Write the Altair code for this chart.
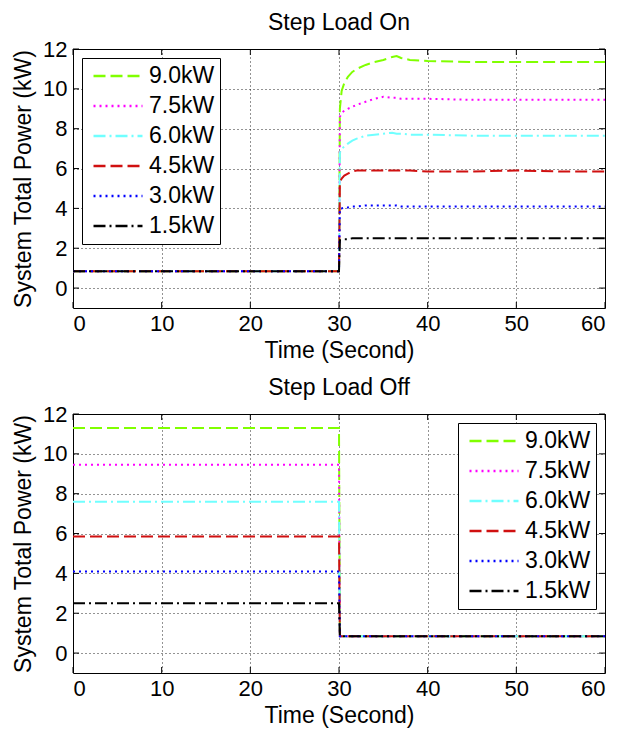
import altair as alt
import pandas as pd

FONT = "Liberation Sans"

series = ["9.0kW", "7.5kW", "6.0kW", "4.5kW", "3.0kW", "1.5kW"]
colors = ["#80FF00", "#FF00FF", "#70FFFF", "#D01010", "#0000FF", "#000000"]
dashes = [[12, 5], [2, 4], [12, 4, 2, 4], [12, 5], [2, 4], [12, 4, 2, 4]]

# Step Load On (time in seconds, power in kW)
t_on = [0, 5, 10, 15, 20, 25, 29.9, 30.0, 30.1, 30.3, 30.6, 31, 31.5, 32, 33, 34,
        35, 36, 36.5, 37, 38, 40, 45, 50, 55, 60]
on_90 = [0.85, 0.85, 0.85, 0.85, 0.85, 0.85, 0.85, 0.85, 9.0, 9.9, 10.3, 10.6, 10.85,
         11.0, 11.2, 11.35, 11.45, 11.6, 11.65, 11.55, 11.45, 11.4, 11.35, 11.35, 11.35, 11.35]
on_75 = [0.85, 0.85, 0.85, 0.85, 0.85, 0.85, 0.85, 0.85, 8.6, 8.8, 8.9, 9.0, 9.1,
         9.2, 9.35, 9.5, 9.6, 9.55, 9.55, 9.5, 9.5, 9.5, 9.45, 9.45, 9.45, 9.45]
on_60 = [0.85, 0.85, 0.85, 0.85, 0.85, 0.85, 0.85, 0.85, 6.8, 7.0, 7.1, 7.25, 7.4,
         7.5, 7.65, 7.7, 7.75, 7.8, 7.75, 7.75, 7.7, 7.7, 7.65, 7.65, 7.65, 7.65]
on_45 = [0.85, 0.85, 0.85, 0.85, 0.85, 0.85, 0.85, 0.85, 5.3, 5.5, 5.65, 5.75, 5.85,
         5.9, 5.9, 5.9, 5.9, 5.9, 5.9, 5.9, 5.9, 5.85, 5.85, 5.9, 5.85, 5.85]
on_30 = [0.85, 0.85, 0.85, 0.85, 0.85, 0.85, 0.85, 0.85, 4.0, 4.0, 4.05, 4.05, 4.1,
         4.1, 4.15, 4.15, 4.15, 4.15, 4.15, 4.1, 4.1, 4.1, 4.1, 4.1, 4.1, 4.1]
on_15 = [0.85, 0.85, 0.85, 0.85, 0.85, 0.85, 0.85, 0.85, 2.4, 2.4, 2.45, 2.45, 2.5,
         2.5, 2.5, 2.5, 2.5, 2.5, 2.5, 2.5, 2.5, 2.5, 2.5, 2.5, 2.5, 2.5]

# Step Load Off
t_off = [0, 10, 20, 29.95, 30.0, 30.1, 40, 50, 60]
off_90 = [11.3, 11.3, 11.3, 11.3, 11.3, 0.85, 0.85, 0.85, 0.85]
off_75 = [9.45, 9.45, 9.45, 9.45, 9.45, 0.85, 0.85, 0.85, 0.85]
off_60 = [7.6, 7.6, 7.6, 7.6, 7.6, 0.85, 0.85, 0.85, 0.85]
off_45 = [5.85, 5.85, 5.85, 5.85, 5.85, 0.85, 0.85, 0.85, 0.85]
off_30 = [4.1, 4.1, 4.1, 4.1, 4.1, 0.85, 0.85, 0.85, 0.85]
off_15 = [2.5, 2.5, 2.5, 2.5, 2.5, 0.85, 0.85, 0.85, 0.85]

x_ticks = [0, 10, 20, 30, 40, 50, 60]
y_ticks = [0, 2, 4, 6, 8, 10, 12]

W, H = 532, 259


def long_df(t, cols):
    rows = []
    for name, vals in zip(series, cols):
        for i, (tt, v) in enumerate(zip(t, vals)):
            rows.append({"t": tt, "p": v, "s": name, "i": i})
    return pd.DataFrame(rows)


def panel(df, title, orient):
    leg = alt.Legend(orient=orient, title=None, offset=9, symbolType="stroke",
                     symbolSize=2400, symbolStrokeWidth=2.5, symbolOffset=5,
                     clipHeight=26, rowPadding=4, labelOffset=5, padding=5,
                     strokeColor="black", fillColor="white",
                     labelFont=FONT, labelFontSize=23, labelColor="black")
    xs = alt.Scale(domain=[0, 60], nice=False)
    ys = alt.Scale(domain=[-1, 12], nice=False)
    lines = alt.Chart(df).mark_line(strokeWidth=2).encode(
        x=alt.X("t:Q", scale=xs, axis=alt.Axis(values=x_ticks, title="Time (Second)")),
        y=alt.Y("p:Q", scale=ys, axis=alt.Axis(values=y_ticks, title="System Total Power (kW)")),
        color=alt.Color("s:N", scale=alt.Scale(domain=series, range=colors), legend=leg),
        strokeDash=alt.StrokeDash("s:N", scale=alt.Scale(domain=series, range=dashes), legend=leg),
        order="i:Q",
    )
    xt = pd.DataFrame({"v": x_ticks})
    yt = pd.DataFrame({"v": y_ticks})
    tb = alt.Chart(xt).mark_rule(color="black").encode(
        x=alt.X("v:Q", scale=xs), y=alt.value(H), y2=alt.value(H - 6))
    tt = alt.Chart(xt).mark_rule(color="black").encode(
        x=alt.X("v:Q", scale=xs), y=alt.value(0), y2=alt.value(6))
    tl = alt.Chart(yt).mark_rule(color="black").encode(
        y=alt.Y("v:Q", scale=ys), x=alt.value(0), x2=alt.value(6))
    tr = alt.Chart(yt).mark_rule(color="black").encode(
        y=alt.Y("v:Q", scale=ys), x=alt.value(W), x2=alt.value(W - 6))
    return alt.layer(lines, tb, tt, tl, tr).properties(
        width=W, height=H, title=alt.Title(title))


df_on = long_df(t_on, [on_90, on_75, on_60, on_45, on_30, on_15])
df_off = long_df(t_off, [off_90, off_75, off_60, off_45, off_30, off_15])

chart = alt.vconcat(
    panel(df_on, "Step Load On", "top-left"),
    panel(df_off, "Step Load Off", "top-right"),
    spacing=13,
).resolve_scale(color="independent", strokeDash="independent").resolve_legend(
    color="independent", strokeDash="independent"
).properties(
    padding={"left": 4, "top": 3, "right": 0, "bottom": 0}
).configure_view(stroke="black", strokeWidth=1).configure_axis(
    domain=False, ticks=False, grid=True, gridColor="black", gridDash=[1, 3],
    gridOpacity=0.85, labelFont=FONT, labelFontSize=22, labelColor="black",
    labelPadding=6, titleFont=FONT, titleFontSize=23, titleFontWeight="normal",
    titleColor="black", titlePadding=7,
).configure_axisX(labelPadding=5, titlePadding=5).configure_title(
    font=FONT, fontSize=23, fontWeight="normal", color="black", offset=3
).configure_legend(cornerRadius=0)

chart.save("out.html", embed_options={"renderer": "svg", "actions": False})
